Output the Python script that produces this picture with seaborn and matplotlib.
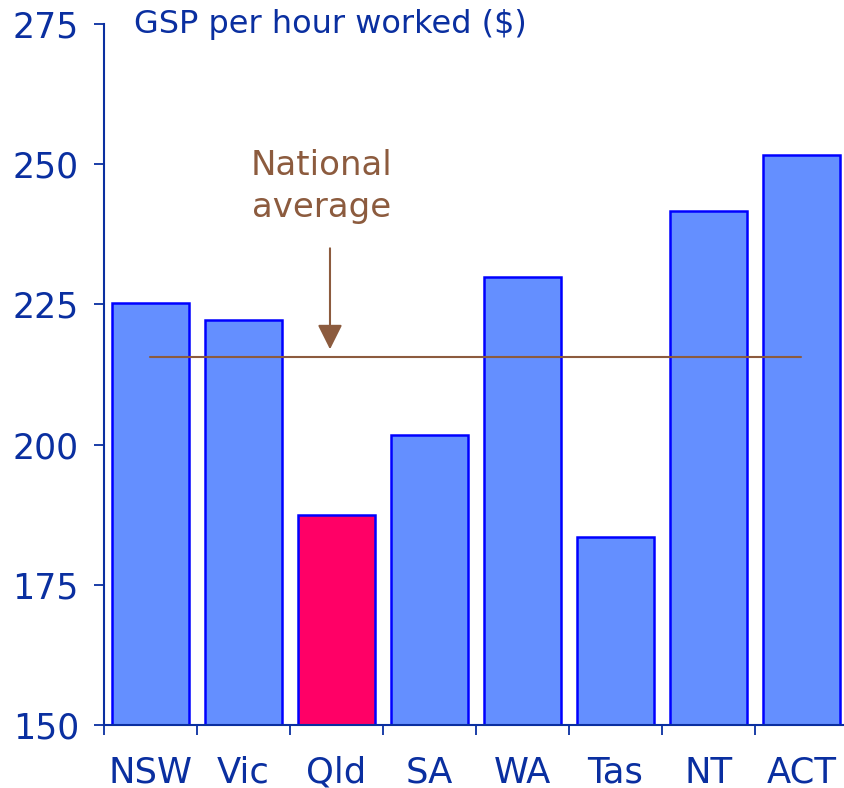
import matplotlib
matplotlib.use("Agg")
import matplotlib.pyplot as plt
import seaborn as sns
import pandas as pd

# Data
states = ["NSW", "Vic", "Qld", "SA", "WA", "Tas", "NT", "ACT"]
gsp_per_hour = [225.2, 222.2, 187.4, 201.7, 229.9, 183.5, 241.7, 251.6]
national_avg = 215.6
yticks = [150, 175, 200, 225, 250, 275]

blue_text = "#0A2FA0"
bar_blue = "#648FFF"
qld_pink = "#FF0066"
brown = "#8C5B3E"

sns.set_theme(style="white")
plt.rcParams["font.family"] = ["DejaVu Sans"]

df = pd.DataFrame({"state": states, "value": gsp_per_hour})
palette = {s: (qld_pink if s == "Qld" else bar_blue) for s in states}

fig = plt.figure(figsize=(8.45, 7.88), dpi=100)
ax = fig.add_axes([104 / 845, 1 - 725 / 788, 744 / 845, (725 - 24) / 788])

sns.barplot(data=df, x="state", y="value", hue="state", palette=palette,
            legend=False, width=0.83, edgecolor="#0000FF", linewidth=1.8,
            saturation=1, ax=ax)

ax.set_ylim(150, 275)
ax.set_xlim(-0.5, 7.5)
ax.set_yticks(yticks)
ax.set_xlabel("")
ax.set_ylabel("")

for s in ["top", "right"]:
    ax.spines[s].set_visible(False)
for s in ["left", "bottom"]:
    ax.spines[s].set_color(blue_text)
    ax.spines[s].set_linewidth(1.5)

ax.tick_params(axis="y", direction="out", length=7, width=1.3, color=blue_text,
               labelcolor=blue_text, labelsize=25, pad=11, left=True)
ax.tick_params(axis="x", which="major", length=0, labelcolor=blue_text,
               labelsize=25.5, pad=22)
ax.set_xticks([i - 0.5 for i in range(len(states) + 1)], minor=True)
ax.tick_params(axis="x", which="minor", direction="out", length=7, width=1.3,
               color=blue_text, bottom=True)

# national average line and annotation
ax.plot([0, len(states) - 1], [national_avg, national_avg], color=brown, lw=1.5)
ax.annotate("", xy=(1.93, 216.5), xytext=(1.93, 235.5),
            arrowprops=dict(arrowstyle="-|>", color=brown, lw=1.5,
                            mutation_scale=38))
ax.text(1.84, 246.1, "National\naverage", color=brown, fontsize=24.5,
        ha="center", va="center", linespacing=1.35)

ax.text(0.04, 1.0, "GSP per hour worked ($)", transform=ax.transAxes,
        color=blue_text, fontsize=23, ha="left", va="center")

fig.savefig("out.png", dpi=100)
